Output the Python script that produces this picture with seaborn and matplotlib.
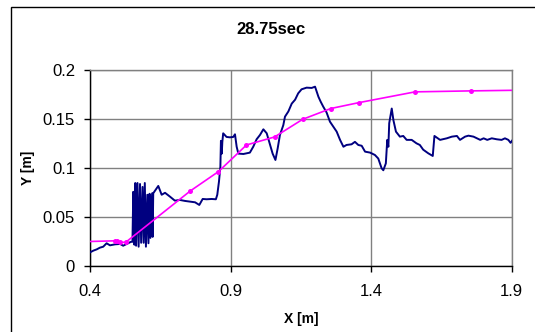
import matplotlib
matplotlib.use("Agg")
import matplotlib.pyplot as plt
import seaborn as sns
import pandas as pd
from matplotlib.patches import Rectangle

# Measured water surface profile at 28.75 s
surface_x = [0.393, 0.411, 0.423, 0.434, 0.446, 0.458, 0.470, 0.488, 0.506, 0.517,
             0.535, 0.545, 0.550, 0.553, 0.557, 0.560, 0.563, 0.568, 0.572, 0.577,
             0.581, 0.586, 0.590, 0.594, 0.598, 0.603, 0.607, 0.611, 0.614, 0.620,
             0.622, 0.624, 0.642, 0.654, 0.666, 0.684, 0.701, 0.719, 0.737, 0.755,
             0.773, 0.788, 0.800, 0.814, 0.832, 0.847, 0.852, 0.858, 0.863, 0.865,
             0.868, 0.870, 0.873, 0.885, 0.897, 0.909, 0.915, 0.921, 0.927, 0.945,
             0.968, 0.980, 0.992, 1.004, 1.016, 1.028, 1.040, 1.049, 1.059, 1.067,
             1.075, 1.087, 1.093, 1.105, 1.117, 1.129, 1.140, 1.152, 1.170, 1.188,
             1.200, 1.212, 1.220, 1.229, 1.241, 1.253, 1.265, 1.277, 1.289, 1.301,
             1.312, 1.330, 1.342, 1.354, 1.366, 1.378, 1.396, 1.413, 1.425, 1.437,
             1.443, 1.452, 1.457, 1.461, 1.464, 1.473, 1.479, 1.488, 1.502, 1.514,
             1.526, 1.544, 1.561, 1.573, 1.585, 1.603, 1.619, 1.625, 1.645, 1.669,
             1.687, 1.705, 1.716, 1.734, 1.746, 1.764, 1.776, 1.788, 1.800, 1.813,
             1.829, 1.847, 1.864, 1.876, 1.888, 1.896, 1.905]
surface_y = [0.0133, 0.016, 0.0173, 0.019, 0.020, 0.0235, 0.0214, 0.0224, 0.0228, 0.021,
             0.0235, 0.025, 0.025, 0.076, 0.022, 0.085, 0.021, 0.085, 0.020, 0.084,
             0.024, 0.081, 0.024, 0.085, 0.020, 0.073, 0.0235, 0.074, 0.029, 0.0745,
             0.030, 0.0745, 0.082, 0.073, 0.075, 0.071, 0.067, 0.0677, 0.0667, 0.066,
             0.0653, 0.0626, 0.0687, 0.0684, 0.0687, 0.0684, 0.073, 0.0864, 0.1017, 0.128,
             0.115, 0.127, 0.1357, 0.132, 0.1316, 0.132, 0.1347, 0.122, 0.115, 0.1146,
             0.116, 0.122, 0.1296, 0.134, 0.1398, 0.1357, 0.124, 0.115, 0.1085, 0.1204,
             0.134, 0.144, 0.1527, 0.158, 0.166, 0.170, 0.1765, 0.1806, 0.1823, 0.182,
             0.1833, 0.173, 0.168, 0.163, 0.157, 0.1476, 0.1425, 0.1374, 0.129, 0.122,
             0.1238, 0.1245, 0.127, 0.1238, 0.123, 0.117, 0.116, 0.1136, 0.110, 0.100,
             0.098, 0.105, 0.129, 0.122, 0.146, 0.161, 0.149, 0.1374, 0.1323, 0.133,
             0.129, 0.129, 0.1255, 0.1238, 0.119, 0.1153, 0.1126, 0.133, 0.129, 0.1306,
             0.1323, 0.133, 0.129, 0.1323, 0.1333, 0.1323, 0.1306, 0.129, 0.1306, 0.129,
             0.1306, 0.1296, 0.129, 0.1306, 0.129, 0.126, 0.1296]

# Reference bed / design profile
profile_x = [0.356, 0.488, 0.496, 0.506, 0.526, 0.756, 0.856, 0.956, 1.056,
             1.156, 1.256, 1.356, 1.556, 1.756, 1.956]
profile_y = [0.025, 0.026, 0.0255, 0.0245, 0.0245, 0.0769, 0.0966, 0.1238, 0.132,
             0.150, 0.161, 0.167, 0.178, 0.179, 0.1798]

title_text = "28.75sec"
x_label = "X [m]"
y_label = "Y [m]"
x_ticks = [0.4, 0.9, 1.4, 1.9]
y_ticks = [0, 0.05, 0.1, 0.15, 0.2]
y_tick_labels = ["0", "0.05", "0.1", "0.15", "0.2"]

sns.set_theme(style="white")
plt.rcParams["font.family"] = ["Liberation Sans", "DejaVu Sans"]

surface = pd.DataFrame({"x": surface_x, "y": surface_y})
profile = pd.DataFrame({"x": profile_x, "y": profile_y})

fig = plt.figure(figsize=(5.35, 3.32), dpi=100)
ax = fig.add_axes([90.3 / 535, 1 - 266.3 / 332, (511.7 - 90.3) / 535, (266.3 - 70.3) / 332])

sns.lineplot(data=surface, x="x", y="y", ax=ax, sort=False, estimator=None,
             color="#000080", linewidth=1.4, zorder=3)
sns.lineplot(data=profile, x="x", y="y", ax=ax, sort=False, estimator=None,
             color="#FF00FF", linewidth=1.2, marker="o", markersize=3.6,
             markeredgewidth=0, zorder=4)

ax.set_xlim(0.4, 1.9)
ax.set_ylim(0, 0.2)
ax.set_xticks(x_ticks)
ax.set_xticklabels([f"{t:g}" for t in x_ticks])
ax.set_yticks(y_ticks)
ax.set_yticklabels(y_tick_labels)
ax.grid(True, color="#808080", linewidth=1.0)
ax.set_axisbelow(True)

for side in ["top", "right"]:
    ax.spines[side].set_color("#808080")
    ax.spines[side].set_linewidth(1.0)
for side in ["left", "bottom"]:
    ax.spines[side].set_color("black")
    ax.spines[side].set_linewidth(1.0)

ax.tick_params(axis="both", which="major", direction="out", length=4, width=1,
               color="black", labelsize=12, labelcolor="black", bottom=True, left=True)
ax.tick_params(axis="x", pad=9)
ax.tick_params(axis="y", pad=7)

ax.set_xlabel(x_label, fontsize=10, fontweight="bold", color="black",
              va="center", ha="center")
ax.set_ylabel(y_label, fontsize=10, fontweight="bold", color="black",
              va="center", ha="center")
ax.xaxis.set_label_coords(0.5, -0.269)
ax.yaxis.set_label_coords(-0.148, 0.5)

fig.text(270.7 / 535, 1 - 29 / 332, title_text, ha="center", va="center",
         fontsize=12, fontweight="bold", color="black")

# Chart area frame
fig.patches.append(Rectangle((11 / 535, -0.1), 1.2, (332 - 7) / 332 + 0.1,
                             transform=fig.transFigure, fill=False,
                             edgecolor="black", linewidth=1.0))

fig.savefig("out.png", dpi=100, facecolor="white")
